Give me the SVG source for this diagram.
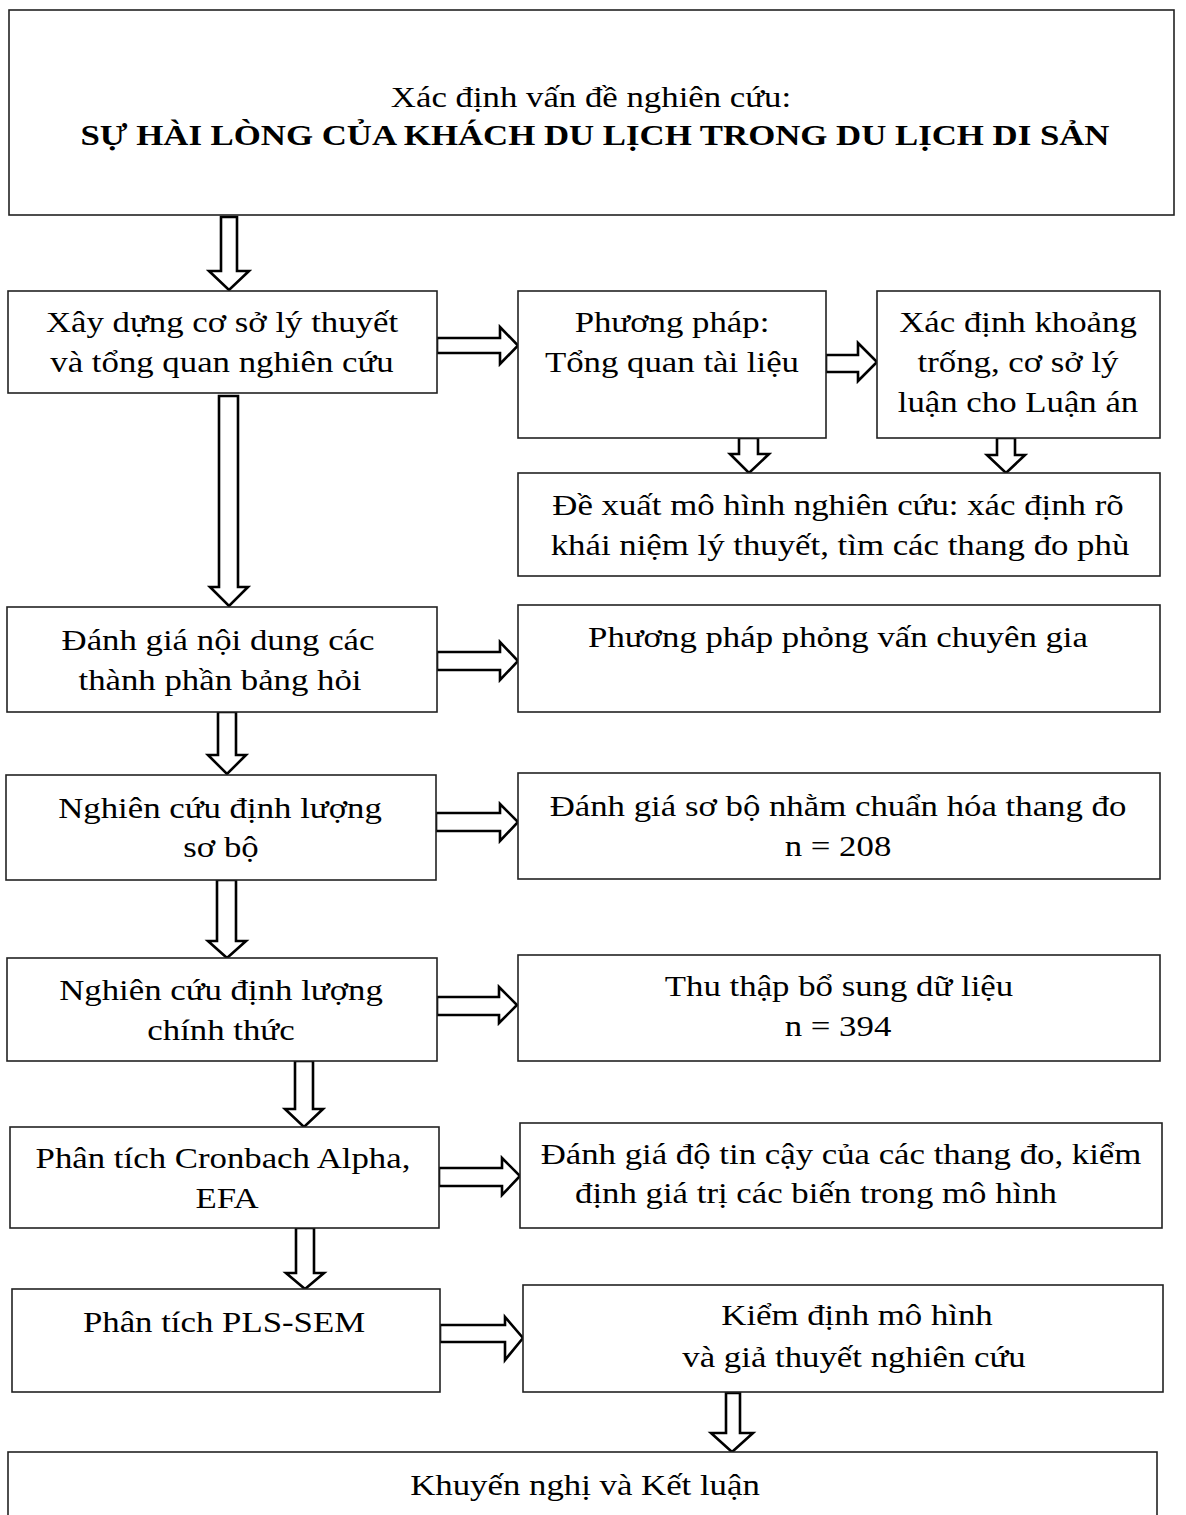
<svg xmlns="http://www.w3.org/2000/svg" width="1186" height="1515" viewBox="0 0 1186 1515">
<style>
.box{fill:#fff;stroke:#222;stroke-width:1.6}
.arr{fill:#fff;stroke:#000;stroke-width:2.6;stroke-linejoin:miter}
text{font-family:"Liberation Serif","Times New Roman",serif;font-size:30px;fill:#000;text-anchor:middle}
.b{font-weight:bold}
</style>
<rect width="1186" height="1515" fill="#fff"/>
<g id="connectors">
<polygon class="arr" points="221,217 237,217 237,271 249,271 229,290 209,271 221,271"/>
<polygon class="arr" points="437,338 500,338 500,327 518,345.5 500,364 500,353 437,353"/>
<polygon class="arr" points="826,355 858,355 858,343 877,362 858,381 858,372 826,372"/>
<polygon class="arr" points="739,438 758,438 758,454 769,454 749,473 730,454 739,454"/>
<polygon class="arr" points="997,438 1015,438 1015,455 1025,455 1006,473 987,455 997,455"/>
<polygon class="arr" points="219,396 238,396 238,587 248,587 229,606 210,587 219,587"/>
<polygon class="arr" points="437,652 500,652 500,642 518,661 500,680 500,670 437,670"/>
<polygon class="arr" points="218,712 236,712 236,755 246,755 227,774 208,755 218,755"/>
<polygon class="arr" points="436,813 500,813 500,804 518,822 500,841 500,831 436,831"/>
<polygon class="arr" points="217,880 236,880 236,941 246,941 227,958 208,941 217,941"/>
<polygon class="arr" points="437,997 499,997 499,987 517,1005 499,1023 499,1015 437,1015"/>
<polygon class="arr" points="295,1061 313,1061 313,1109 323,1109 304,1127 285,1109 295,1109"/>
<polygon class="arr" points="439,1168 502,1168 502,1158 520,1176 502,1195 502,1186 439,1186"/>
<polygon class="arr" points="296,1228 314,1228 314,1273 324,1273 305,1289 286,1273 296,1273"/>
<polygon class="arr" points="440,1325 505,1325 505,1317 523,1338 505,1360 505,1342 440,1342"/>
<polygon class="arr" points="726,1393 740,1393 740,1433 753,1433 732,1452 711,1433 726,1433"/>
</g>
<g id="n1">
<rect class="box" x="9" y="10" width="1165" height="205"/>
<text transform="translate(591 107) scale(1.16 1)">Xác định vấn đề nghiên cứu:</text>
<text class="b" transform="translate(595 145) scale(1.16 1)">SỰ HÀI LÒNG CỦA KHÁCH DU LỊCH TRONG DU LỊCH DI SẢN</text>
</g>
<g id="n2">
<rect class="box" x="8" y="291" width="429" height="102"/>
<text transform="translate(222 332) scale(1.16 1)">Xây dựng cơ sở lý thuyết</text>
<text transform="translate(222 372) scale(1.16 1)">và tổng quan nghiên cứu</text>
</g>
<g id="n3">
<rect class="box" x="518" y="291" width="308" height="147"/>
<text transform="translate(672 332) scale(1.16 1)">Phương pháp:</text>
<text transform="translate(672 372) scale(1.16 1)">Tổng quan tài liệu</text>
</g>
<g id="n4">
<rect class="box" x="877" y="291" width="283" height="147"/>
<text transform="translate(1018 332) scale(1.16 1)">Xác định khoảng</text>
<text transform="translate(1018 372) scale(1.16 1)">trống, cơ sở lý</text>
<text transform="translate(1018 412) scale(1.16 1)">luận cho Luận án</text>
</g>
<g id="n5">
<rect class="box" x="518" y="473" width="642" height="103"/>
<text transform="translate(838 515) scale(1.16 1)">Đề xuất mô hình nghiên cứu: xác định rõ</text>
<text transform="translate(840 555) scale(1.16 1)">khái niệm lý thuyết, tìm các thang đo phù</text>
</g>
<g id="n6">
<rect class="box" x="7" y="607" width="430" height="105"/>
<text transform="translate(218 650) scale(1.16 1)">Đánh giá nội dung các</text>
<text transform="translate(220 690) scale(1.16 1)">thành phần bảng hỏi</text>
</g>
<g id="n7">
<rect class="box" x="518" y="605" width="642" height="107"/>
<text transform="translate(838 647) scale(1.16 1)">Phương pháp phỏng vấn chuyên gia</text>
</g>
<g id="n8">
<rect class="box" x="6" y="775" width="430" height="105"/>
<text transform="translate(220 818) scale(1.16 1)">Nghiên cứu định lượng</text>
<text transform="translate(221 857) scale(1.16 1)">sơ bộ</text>
</g>
<g id="n9">
<rect class="box" x="518" y="773" width="642" height="106"/>
<text transform="translate(838 816) scale(1.16 1)">Đánh giá sơ bộ nhằm chuẩn hóa thang đo</text>
<text transform="translate(838 856) scale(1.16 1)">n = 208</text>
</g>
<g id="n10">
<rect class="box" x="7" y="958" width="430" height="103"/>
<text transform="translate(221 1000) scale(1.16 1)">Nghiên cứu định lượng</text>
<text transform="translate(221 1040) scale(1.16 1)">chính thức</text>
</g>
<g id="n11">
<rect class="box" x="518" y="955" width="642" height="106"/>
<text transform="translate(839 996) scale(1.16 1)">Thu thập bổ sung dữ liệu</text>
<text transform="translate(838 1036) scale(1.16 1)">n = 394</text>
</g>
<g id="n12">
<rect class="box" x="10" y="1127" width="429" height="101"/>
<text transform="translate(223 1168) scale(1.16 1)">Phân tích Cronbach Alpha,</text>
<text transform="translate(227 1208) scale(1.16 1)">EFA</text>
</g>
<g id="n13">
<rect class="box" x="520" y="1123" width="642" height="105"/>
<text transform="translate(841 1164) scale(1.16 1)">Đánh giá độ tin cậy của các thang đo, kiểm</text>
<text transform="translate(816 1203) scale(1.16 1)">định giá trị các biến trong mô hình</text>
</g>
<g id="n14">
<rect class="box" x="12" y="1289" width="428" height="103"/>
<text transform="translate(224 1332) scale(1.16 1)">Phân tích PLS-SEM</text>
</g>
<g id="n15">
<rect class="box" x="523" y="1285" width="640" height="107"/>
<text transform="translate(857 1325) scale(1.16 1)">Kiểm định mô hình</text>
<text transform="translate(854 1367) scale(1.16 1)">và giả thuyết nghiên cứu</text>
</g>
<g id="n16">
<rect class="box" x="8" y="1452" width="1149" height="90"/>
<text transform="translate(585 1495) scale(1.16 1)">Khuyến nghị và Kết luận</text>
</g>
</svg>
